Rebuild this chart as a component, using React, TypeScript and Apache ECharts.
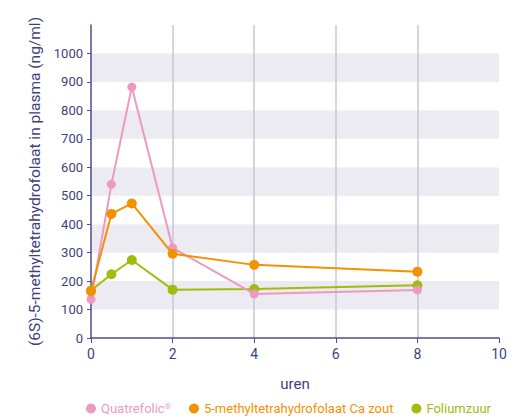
import React, { useEffect, useRef } from "react";
import * as echarts from "echarts";

const hours = [0, 0.5, 1, 2, 4, 8];
const quatrefolic = [136, 540, 882, 317, 155, 169];
const mthfCa = [164, 436, 473, 296, 257, 233];
const foliumzuur = [167, 224, 274, 170, 172, 185];
const seriesNames = ["Quatrefolic®", "5-methyltetrahydrofolaat Ca zout", "Foliumzuur"];
const colors = ["#ec9ac2", "#f39200", "#a2bb0c"];
const yTicks = [0, 100, 200, 300, 400, 500, 600, 700, 800, 900, 1000];

export default function App() {
  const ref = useRef<HTMLDivElement>(null);
  useEffect(() => {
    document.body.style.margin = "0";
    const chart = echarts.init(ref.current!, null, { renderer: "svg" });
    const axisColor = "#4d4d8f";
    const textColor = "#3f3f7c";
    const font = "Roboto";
    const mk = (name: string, data: number[], color: string, z: number, size: number) => ({
      name,
      type: "line",
      data: hours.map((h, i) => [h, data[i]]),
      symbol: "circle",
      symbolSize: size,
      z,
      lineStyle: { color, width: 2 },
      itemStyle: { color },
    });
    chart.setOption({
      animation: false,
      grid: { left: 91, right: 19, top: 25, bottom: 81, containLabel: false },
      xAxis: {
        type: "value",
        min: 0,
        max: 10,
        interval: 2,
        name: "uren",
        nameLocation: "middle",
        nameGap: 38,
        nameTextStyle: { color: textColor, fontSize: 15, fontFamily: font },
        axisLine: { show: true, lineStyle: { color: axisColor, width: 1.5 } },
        axisTick: { show: true, length: 5, lineStyle: { color: axisColor } },
        axisLabel: { color: textColor, fontSize: 14, fontFamily: font, margin: 9 },
        splitLine: { show: true, showMinLine: false, showMaxLine: false, lineStyle: { color: "#c6c6da", width: 1.5 } },
      },
      yAxis: {
        type: "value",
        min: 0,
        max: 1100,
        interval: 100,
        name: "(6S)-5-methyltetrahydrofolaat in plasma (ng/ml)",
        nameLocation: "middle",
        nameGap: 44,
        nameTextStyle: { color: textColor, fontSize: 15.5, fontFamily: font },
        axisLine: { show: true, lineStyle: { color: axisColor, width: 1.5 } },
        axisTick: { show: true, length: 4, lineStyle: { color: axisColor }, customValues: yTicks },
        axisLabel: {
          color: textColor,
          fontSize: 13,
          fontFamily: font,
          margin: 8,
          customValues: yTicks,
          formatter: (v: number) => String(v),
        },
        splitLine: { show: false },
        splitArea: { show: true, areaStyle: { color: ["#ffffff", "#ebebf1"] } },
      },
      legend: {
        top: 402,
        left: 86,
        right: 0,
        padding: 0,
        icon: "circle",
        itemWidth: 10,
        itemHeight: 10,
        itemGap: 18,
        textStyle: { fontSize: 13, fontFamily: font },
        formatter: (n: string) => (n === seriesNames[0] ? "Quatrefolic{sup|®}" : n),
        data: seriesNames.map((n, i) => ({
          name: n,
          textStyle: {
            color: colors[i],
            rich: { sup: { color: colors[i], fontSize: 8, fontFamily: font, verticalAlign: "top", padding: [0, 0, 4, 0] } },
          },
        })),
      },
      series: [
        mk(seriesNames[0], quatrefolic, colors[0], 3, 9),
        mk(seriesNames[1], mthfCa, colors[1], 4, 10),
        mk(seriesNames[2], foliumzuur, colors[2], 2, 10),
      ],
    });
    return () => chart.dispose();
  }, []);
  return <div ref={ref} style={{ width: 518, height: 419 }} />;
}
